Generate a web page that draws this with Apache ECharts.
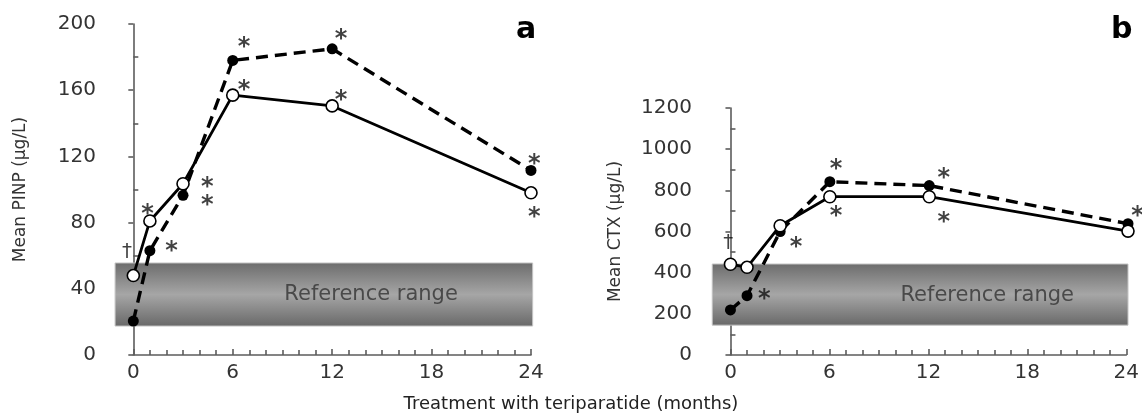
<!DOCTYPE html>
<html><head><meta charset="utf-8">
<script src="https://cdn.jsdelivr.net/npm/echarts@6/dist/echarts.min.js"></script>
<style>html,body{margin:0;padding:0;background:#fff}#c{width:1142px;height:415px}</style>
</head><body><div id="c"></div>
<script>
// ---- data ----
const months = [0, 1, 3, 6, 12, 24];
const pinpSolid  = [48, 81, 103.5, 157, 150.5, 98];    // open circles, solid line
const pinpDashed = [20.5, 63, 96.5, 178, 185, 111.5];  // filled circles, dashed line
const ctxSolid   = [441, 426, 628, 769, 769, 602];
const ctxDashed  = [219, 288, 600, 842, 823, 638];
const monthTicks = [0, 6, 12, 18, 24];
const pinpRange = [0, 200, 40];
const ctxRange  = [0, 1200, 200];
const refBandA = [-1.1, 24.1, 17.5, 55.6];
const refBandB = [-1.1, 24.0, 145, 442];
const refLabelA = [14.35, 36.3, 'Reference range'];
const refLabelB = [15.5, 291, 'Reference range'];
const notesA = [[-0.38, 62.4, '†'], [0.85, 88.6, '*'], [2.3, 65.9, '*'], [4.47, 104.7, '*'], [4.47, 94, '*'],
                [6.68, 189.3, '*'], [6.68, 163, '*'], [12.53, 194.4, '*'], [12.53, 157, '*'], [24.2, 118.4, '*'], [24.2, 86.4, '*']];
const notesB = [[-0.13, 543, '†'], [2.04, 296, '*'], [3.96, 550, '*'], [6.37, 928, '*'], [6.37, 701, '*'],
                [12.88, 883, '*'], [12.88, 672, '*'], [24.57, 700, '*']];
const panelLetters = ['a', 'b'];
const yTitles = ['Mean PINP (µg/L)', 'Mean CTX (µg/L)'];
const xTitle = 'Treatment with teriparatide (months)';

// ---- chart ----
const FONT = 'DejaVu Sans';
const zip = (xs, ys) => xs.map((x, i) => [x, ys[i]]);
const chart = echarts.init(document.getElementById('c'), null, {renderer: 'canvas'});

const axisLineStyle = {color: '#5c5c5c', width: 1.6};
function dataX(min) { return {type: 'value', min: min, max: 24, show: false}; }
function dispX(gi) {
  return {type: 'value', gridIndex: gi, min: 0, max: 24, interval: 6,
    axisLine: {show: true, lineStyle: axisLineStyle},
    axisTick: {show: true, inside: true, length: 6, lineStyle: axisLineStyle},
    minorTick: {show: true, splitNumber: 6, length: 5, lineStyle: axisLineStyle},
    splitLine: {show: false},
    axisLabel: {fontFamily: FONT, fontSize: 20, color: '#333', margin: 8,
      formatter: v => (monthTicks.indexOf(v) >= 0 ? String(v) : '')}};
}
function dispY(gi, r, name, gap) {
  return {type: 'value', gridIndex: gi, min: r[0], max: r[1], interval: r[2],
    name: name, nameLocation: 'middle', nameGap: gap,
    nameTextStyle: {fontFamily: FONT, fontSize: 17, color: '#333'},
    axisLine: {show: true, lineStyle: axisLineStyle},
    axisTick: {show: true, inside: false, length: 5, lineStyle: axisLineStyle},
    minorTick: {show: true, splitNumber: 2, length: -5, lineStyle: axisLineStyle},
    splitLine: {show: false},
    axisLabel: {fontFamily: FONT, fontSize: 20, color: '#333', margin: 6, formatter: v => String(v)}};
}
function hidY(gi, r) { return {type: 'value', gridIndex: gi, min: r[0], max: r[1], show: false}; }

function band(xi, yi, b) {
  return {type: 'custom', xAxisIndex: xi, yAxisIndex: yi, silent: true, z: 1,
    data: [b],
    renderItem: function (params, api) {
      const p0 = api.coord([api.value(0), api.value(3)]);
      const p1 = api.coord([api.value(1), api.value(2)]);
      return {type: 'rect', shape: {x: p0[0], y: p0[1], width: p1[0] - p0[0], height: p1[1] - p0[1]},
        style: {fill: new echarts.graphic.LinearGradient(0, 0, 0, 1, [
          {offset: 0, color: '#6c6c6c'}, {offset: 0.5, color: '#a6a6a6'}, {offset: 1, color: '#686868'}]),
          stroke: '#c4c4c4', lineWidth: 1}};
    }};
}
function lineSeries(xi, yi, data, dashed) {
  return {type: 'line', xAxisIndex: xi, yAxisIndex: yi, data: data, z: dashed ? 3 : 4,
    symbol: 'circle', symbolSize: dashed ? 11 : 12, showSymbol: true, animation: false,
    lineStyle: {color: '#000', width: dashed ? 3.4 : 2.8, type: dashed ? [12, 7] : 'solid'},
    itemStyle: dashed ? {color: '#000'} : {color: '#fff', borderColor: '#000', borderWidth: 1.6}};
}
function textSeries(xi, yi, data, size, color, weight, dy) {
  return {type: 'scatter', xAxisIndex: xi, yAxisIndex: yi, data: data, symbolSize: 1, z: 6, silent: true,
    clip: false, itemStyle: {color: 'rgba(0,0,0,0)'},
    label: {show: true, position: 'inside', formatter: p => p.data[2], offset: [0, dy],
      fontFamily: FONT, fontSize: size, fontWeight: weight, color: color}};
}
const stars = n => n.filter(d => d[2] === '*');
const daggers = n => n.filter(d => d[2] !== '*');

const option = {
  animation: false,
  grid: [
    {left: 102, top: 24, width: 429, height: 331},
    {left: 133.3, top: 24, width: 397.7, height: 331},
    {left: 698, top: 108, width: 430, height: 247},
    {left: 730.5, top: 108, width: 397.5, height: 247}
  ],
  xAxis: [Object.assign(dataX(-1.89), {gridIndex: 0}), dispX(1),
          Object.assign(dataX(-1.96), {gridIndex: 2}), dispX(3)],
  yAxis: [dispY(0, pinpRange, yTitles[0], 73), hidY(1, pinpRange),
          dispY(2, ctxRange, yTitles[1], 74), hidY(3, ctxRange)],
  title: [
    {text: panelLetters[0], left: 511, top: 10, textStyle: {fontFamily: FONT, fontSize: 30, fontWeight: 'bold', color: '#000'}},
    {text: panelLetters[1], left: 1106, top: 10, textStyle: {fontFamily: FONT, fontSize: 30, fontWeight: 'bold', color: '#000'}},
    {text: xTitle, left: 'center', top: 390, textStyle: {fontFamily: FONT, fontSize: 18, fontWeight: 'normal', color: '#222'}}
  ],
  series: [
    band(0, 0, refBandA),
    lineSeries(0, 0, zip(months, pinpDashed), true),
    lineSeries(0, 0, zip(months, pinpSolid), false),
    textSeries(0, 0, [refLabelA], 21, '#333', 'normal', 0),
    textSeries(0, 0, stars(notesA), 24, '#111', 'bold', 6),
    textSeries(0, 0, daggers(notesA), 20, '#111', 'normal', 0),
    band(2, 2, refBandB),
    lineSeries(2, 2, zip(months, ctxDashed), true),
    lineSeries(2, 2, zip(months, ctxSolid), false),
    textSeries(2, 2, [refLabelB], 21, '#333', 'normal', 0),
    textSeries(2, 2, stars(notesB), 24, '#111', 'bold', 6),
    textSeries(2, 2, daggers(notesB), 20, '#111', 'normal', 0)
  ]
};
chart.setOption(option);
</script></body></html>
